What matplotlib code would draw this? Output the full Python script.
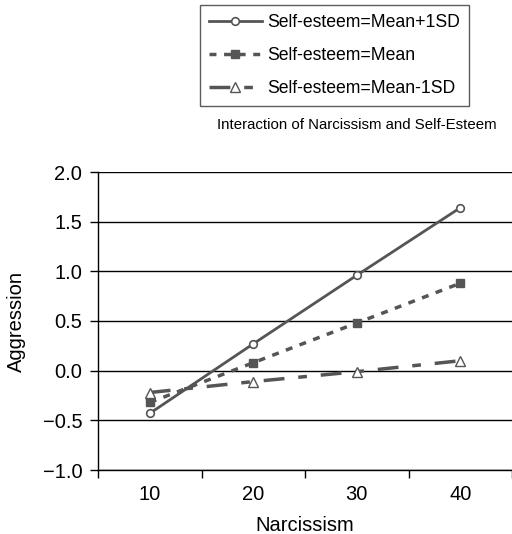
import numpy as np
import matplotlib.pyplot as plt
from matplotlib.ticker import FixedLocator, NullFormatter

narcissism = [10, 20, 30, 40]
high_se = [-0.43, 0.27, 0.96, 1.64]
mean_se = [-0.32, 0.08, 0.48, 0.88]
low_se = [-0.22, -0.11, -0.01, 0.10]
y_ticks = [-1.0, -0.5, 0.0, 0.5, 1.0, 1.5, 2.0]

col = '#555555'
plt.rcParams['font.family'] = 'Liberation Sans'
fs = 14.5

fig = plt.figure(figsize=(5.12, 5.34), dpi=100)
ax = fig.add_axes([98 / 512, 64 / 534, 1 - 98 / 512, 298 / 534])

x = np.arange(len(narcissism))
l1, = ax.plot(x, high_se, color=col, lw=2, marker='o', ms=5.5, mfc='white',
              mec=col, mew=1.2, label='Self-esteem=Mean+1SD')
l2, = ax.plot(x, mean_se, color=col, lw=2.5, ls=(0, (2, 2.2)), marker='s', ms=6,
              mfc=col, mec=col, label='Self-esteem=Mean')
l3, = ax.plot(x, low_se, color=col, lw=2.5, ls=(0, (6, 4, 2.5, 4)), marker='^', ms=7,
              mfc='white', mec=col, mew=1.0, label='Self-esteem=Mean-1SD')

ax.set_xlim(-0.5, len(narcissism) - 0.5)
ax.set_ylim(-1.0, 2.0)
ax.xaxis.set_major_locator(FixedLocator(np.arange(-0.5, len(narcissism), 1.0)))
ax.xaxis.set_major_formatter(NullFormatter())
ax.xaxis.set_minor_locator(FixedLocator(x))
ax.set_xticklabels([str(n) for n in narcissism], minor=True)
ax.tick_params(axis='x', which='minor', length=0, pad=11, labelsize=fs)
ax.tick_params(axis='x', which='major', length=5.5, width=1)
ax.set_yticks(y_ticks)
ax.set_yticklabels([f'{v:.1f}'.replace('-', '\u2212') for v in y_ticks])
ax.tick_params(axis='y', length=5.8, width=1, pad=5.5, labelsize=fs)
ax.yaxis.grid(True, color='black', lw=1)
ax.set_axisbelow(True)
for s in ['top', 'right']:
    ax.spines[s].set_visible(False)
ax.spines['left'].set_linewidth(1)
ax.spines['bottom'].set_linewidth(1)

ax.set_xlabel('Narcissism', fontsize=fs, va='center')
ax.set_ylabel('Aggression', fontsize=fs, va='center')
ax.xaxis.set_label_coords(0.5, -0.185)
ax.yaxis.set_label_coords(-0.196, 0.5)

fig.text(357 / 512, 1 - 125 / 534, 'Interaction of Narcissism and Self-Esteem',
         ha='center', va='center', fontsize=10.8)

leg = fig.legend(handles=[l1, l2, l3], loc='upper left',
                 bbox_to_anchor=(200 / 512, 1 - 5 / 534), fontsize=12.7,
                 frameon=True, fancybox=False, edgecolor='#333333',
                 handlelength=3.0, handletextpad=0.3, labelspacing=0.92,
                 borderpad=0.5, borderaxespad=0)
leg.get_frame().set_linewidth(1)

fig.savefig('out.png', dpi=100)
